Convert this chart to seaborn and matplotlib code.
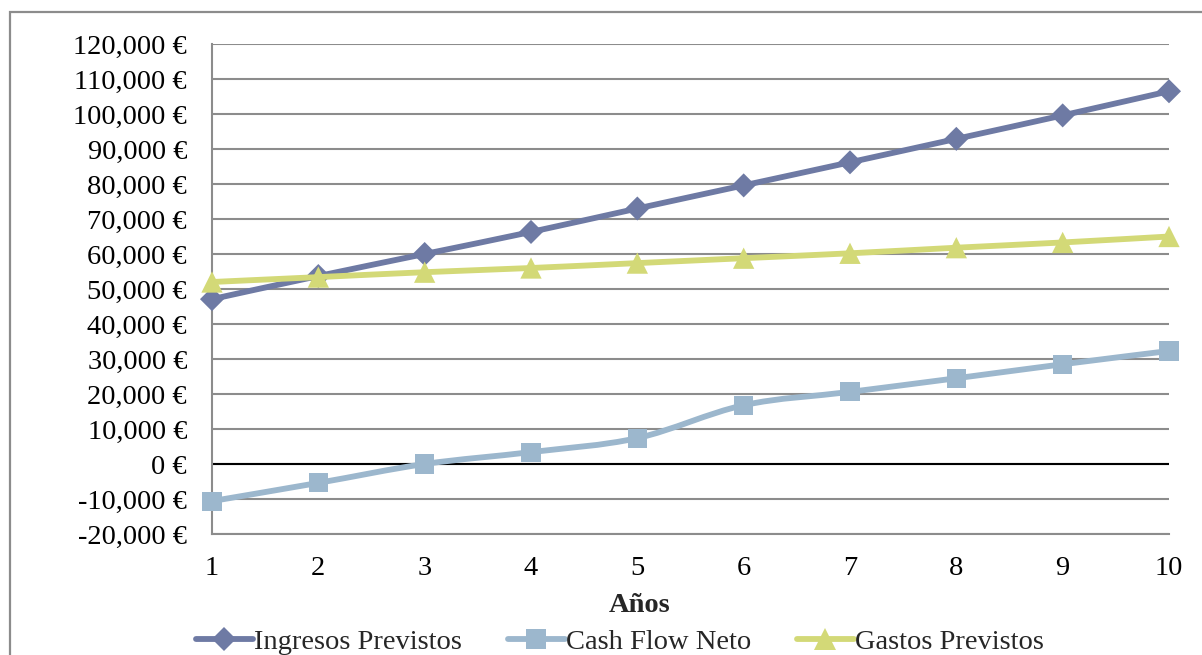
import numpy as np
import pandas as pd
import matplotlib
matplotlib.use("Agg")
import matplotlib.pyplot as plt
from matplotlib.path import Path
from matplotlib.patches import PathPatch, Rectangle
from matplotlib.lines import Line2D
from matplotlib.ticker import FuncFormatter
import seaborn as sns

# --- data -------------------------------------------------------------
anos = [1, 2, 3, 4, 5, 6, 7, 8, 9, 10]
ingresos_previstos = [47100, 53700, 60000, 66300, 73000, 79600, 86200, 92900, 99600, 106500]
cash_flow_neto = [-10600, -5400, 0, 3400, 7400, 16800, 20600, 24500, 28500, 32300]
gastos_previstos = [52000, 53400, 54800, 56000, 57400, 58800, 60200, 61800, 63300, 65000]

series_names = ["Ingresos Previstos", "Cash Flow Neto", "Gastos Previstos"]
series_values = [ingresos_previstos, cash_flow_neto, gastos_previstos]
series_colors = ["#6E7AA4", "#9CB7CD", "#D3D977"]
series_markers = ["D", "s", "^"]
series_msize = [150, 190, 235]

y_ticks = list(range(-20000, 120001, 10000))

# --- style ------------------------------------------------------------
sns.set_theme(style="white")
plt.rcParams["font.family"] = ["Liberation Serif", "DejaVu Serif"]
FS = 20.5
plt.rcParams["font.size"] = FS

fig = plt.figure(figsize=(12.02, 6.55), dpi=100)
W, H = 1202, 655
ax = fig.add_axes([212 / W, 1 - 534 / H, (1169 - 212) / W, (534 - 44) / H])

# outer chart frame
fig.patches.append(Rectangle((10 / W, -0.1), 1.2, 1 - 12 / H + 0.1,
                             transform=fig.transFigure, fill=False,
                             edgecolor="#8C8C8C", linewidth=1.6, zorder=0))


def smooth_path(xs, ys):
    """Cubic Bezier path through the points (Catmull-Rom style tangents)."""
    pts = np.column_stack([xs, ys]).astype(float)
    n = len(pts)
    verts = [pts[0]]
    codes = [Path.MOVETO]
    for i in range(n - 1):
        p0 = pts[i - 1] if i > 0 else pts[i]
        p1 = pts[i]
        p2 = pts[i + 1]
        p3 = pts[i + 2] if i + 2 < n else pts[i + 1]
        verts += [p1 + (p2 - p0) / 6.0, p2 - (p3 - p1) / 6.0, p2]
        codes += [Path.CURVE4] * 3
    return Path(verts, codes)


df = pd.DataFrame({"Años": anos})
for name, vals in zip(series_names, series_values):
    df[name] = vals

for k, (name, color, mk, ms) in enumerate(zip(series_names, series_colors,
                                              series_markers, series_msize)):
    ax.add_patch(PathPatch(smooth_path(df["Años"], df[name]), fill=False,
                           edgecolor=color, linewidth=4.2, capstyle="round",
                           joinstyle="round", zorder=3 + k, clip_on=False))
    sns.scatterplot(data=df, x="Años", y=name, ax=ax, marker=mk, s=ms,
                    color=color, edgecolor="none", linewidth=0,
                    zorder=3 + k, clip_on=False, legend=False)

# axes, grid and zero line
ax.set_xlim(1, 10)
ax.set_ylim(-20000, 120000)
ax.set_yticks(y_ticks)
ax.set_xticks(anos)
ax.yaxis.set_major_formatter(FuncFormatter(lambda v, p: f"{v:,.0f} €"))
ax.grid(axis="y", color="#8C8C8C", linewidth=1.5, zorder=1)
ax.grid(axis="x", visible=False)
ax.axhline(0, color="black", linewidth=1.5, zorder=2)
for side in ["top", "right"]:
    ax.spines[side].set_visible(False)
for side in ["left", "bottom"]:
    ax.spines[side].set_color("#8C8C8C")
    ax.spines[side].set_linewidth(1.5)
ax.tick_params(axis="both", length=0, labelsize=FS, colors="black")
ax.tick_params(axis="y", pad=18)
ax.tick_params(axis="x", pad=16)
ax.set_ylabel("")
ax.set_xlabel("Años", fontsize=FS, fontweight="bold")
ax.xaxis.set_label_coords((640 - 212) / (1169 - 212), (534 - 605) / (534 - 44))
ax.xaxis.label.set_va("center")

handles = [Line2D([], [], color=c, linewidth=4.2, marker=m, markersize=ms ** 0.5,
                  markeredgewidth=0, solid_capstyle="round")
           for c, m, ms in zip(series_colors, series_markers, series_msize)]
fig.legend(handles, series_names, loc="center", ncol=3, frameon=False,
           bbox_to_anchor=(620 / W, 1 - 642 / H), fontsize=FS,
           handlelength=2.0, handletextpad=0.05, columnspacing=1.6)

fig.savefig("out.png", dpi=100)
